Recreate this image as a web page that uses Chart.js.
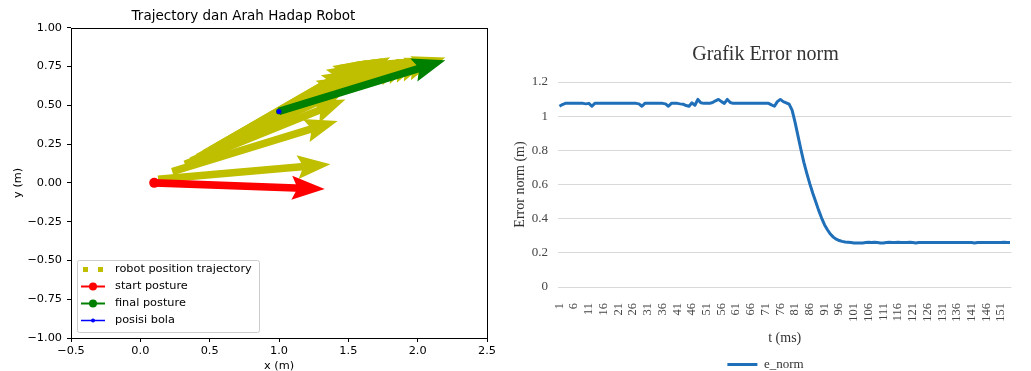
<!DOCTYPE html>
<html>
<head>
<meta charset="utf-8">
<script src="https://cdn.jsdelivr.net/npm/chart.js@4.4.1/dist/chart.umd.min.js"></script>
<style>
html, body { margin: 0; padding: 0; background: #fff; overflow: hidden; }
#wrap { position: relative; width: 1031px; height: 371px; overflow: hidden; }
#c1 { position: absolute; left: 0; top: 0; }
#c2 { position: absolute; left: 503px; top: 0; }
</style>
</head>
<body>
<div id="wrap">
  <canvas id="c1" width="558" height="376"></canvas>
  <canvas id="c2" width="530" height="385"></canvas>
</div>
<script>
// ---- left chart: trajectory (tail x, tail y, arrow dx, arrow dy) ----
var trajX = [0.128, 0.230, 0.322, 0.368, 0.414, 0.461, 0.507, 0.553, 0.599,
             0.645, 0.691, 0.737, 0.784, 0.830, 0.876, 0.922, 0.968, 1.014];
var trajY = [0.023, 0.073, 0.119, 0.142, 0.165, 0.188, 0.211, 0.234, 0.256,
             0.279, 0.302, 0.325, 0.348, 0.371, 0.394, 0.417, 0.440, 0.463];
var trajU = [1.243, 1.193, 1.157, 1.131, 1.101, 1.091, 1.080, 1.080, 1.091,
             1.101, 1.111, 1.131, 1.148, 1.157, 1.165, 1.172, 1.180, 1.186];
var trajV = [0.097, 0.326, 0.418, 0.472, 0.524, 0.541, 0.558, 0.558, 0.541,
             0.524, 0.507, 0.472, 0.436, 0.418, 0.400, 0.382, 0.363, 0.345];
var startX = [0.10], startY = [0.00], startU = [1.23], startV = [-0.04];
var finalX = [1.00], finalY = [0.46], finalU = [1.20], finalV = [0.33];
var bolaX = [1.00], bolaY = [0.46];
var legendNames = ["robot position trajectory", "start posture", "final posture", "posisi bola"];

// ---- right chart: error norm per sample ----
var errNorm = [
  1.058, 1.068, 1.075, 1.075, 1.075, 1.075, 1.075, 1.075, 1.075, 1.072,
  1.075, 1.058, 1.075, 1.075, 1.075, 1.075, 1.075, 1.075, 1.075, 1.075,
  1.075, 1.075, 1.075, 1.075, 1.075, 1.075, 1.075, 1.072, 1.058, 1.075,
  1.075, 1.075, 1.075, 1.075, 1.075, 1.075, 1.072, 1.058, 1.075, 1.075,
  1.075, 1.072, 1.070, 1.062, 1.058, 1.078, 1.064, 1.098, 1.078, 1.075,
  1.075, 1.075, 1.080, 1.090, 1.098, 1.085, 1.075, 1.098, 1.080, 1.075,
  1.075, 1.075, 1.075, 1.075, 1.075, 1.075, 1.075, 1.075, 1.075, 1.075,
  1.075, 1.075, 1.066, 1.058, 1.085, 1.098, 1.085, 1.078, 1.070, 1.035,
  0.965, 0.885, 0.805, 0.730, 0.665, 0.605, 0.550, 0.500, 0.450, 0.405,
  0.365, 0.335, 0.310, 0.292, 0.280, 0.272, 0.267, 0.264, 0.262, 0.260,
  0.258, 0.258, 0.258, 0.258, 0.260, 0.262, 0.260, 0.262, 0.260, 0.258,
  0.258, 0.260, 0.262, 0.260, 0.260, 0.262, 0.260, 0.260, 0.260, 0.262,
  0.260, 0.258, 0.260, 0.260, 0.260, 0.260, 0.260, 0.260, 0.260, 0.260,
  0.260, 0.260, 0.260, 0.260, 0.260, 0.260, 0.260, 0.260, 0.260, 0.260,
  0.260, 0.258, 0.260, 0.260, 0.260, 0.260, 0.260, 0.260, 0.260, 0.260,
  0.260, 0.262, 0.260, 0.260
];
var tLabels = errNorm.map(function (v, i) { return String(i + 1); });

function arrow(ctx, sx, sy, x0, y0, u, v, color) {
  var px0 = sx.getPixelForValue(x0), py0 = sy.getPixelForValue(y0);
  var px1 = sx.getPixelForValue(x0 + u), py1 = sy.getPixelForValue(y0 + v);
  var dx = px1 - px0, dy = py1 - py0, len = Math.hypot(dx, dy);
  var ux = dx / len, uy = dy / len, nx = -uy, ny = ux;
  var sw = 3.8, hw = 12, hl = 33, ha = 29;
  var pts = [
    [px0 + nx * sw, py0 + ny * sw],
    [px1 - ux * ha + nx * sw, py1 - uy * ha + ny * sw],
    [px1 - ux * hl + nx * hw, py1 - uy * hl + ny * hw],
    [px1, py1],
    [px1 - ux * hl - nx * hw, py1 - uy * hl - ny * hw],
    [px1 - ux * ha - nx * sw, py1 - uy * ha - ny * sw],
    [px0 - nx * sw, py0 - ny * sw]
  ];
  ctx.beginPath();
  pts.forEach(function (p, i) { if (i) ctx.lineTo(p[0], p[1]); else ctx.moveTo(p[0], p[1]); });
  ctx.closePath();
  ctx.fillStyle = color;
  ctx.fill();
}

var quiver = {
  id: "quiver",
  beforeDatasetsDraw: function (chart) {
    var ctx = chart.ctx, a = chart.chartArea, sx = chart.scales.x, sy = chart.scales.y;
    ctx.save();
    ctx.beginPath();
    ctx.rect(a.left, a.top, a.right - a.left, a.bottom - a.top);
    ctx.clip();
    for (var i = 0; i < trajX.length; i++) arrow(ctx, sx, sy, trajX[i], trajY[i], trajU[i], trajV[i], "#bfbf00");
    arrow(ctx, sx, sy, startX[0], startY[0], startU[0], startV[0], "#ff0000");
    arrow(ctx, sx, sy, finalX[0], finalY[0], finalU[0], finalV[0], "#008000");
    ctx.restore();
  },
  afterDatasetsDraw: function (chart) {
    var ctx = chart.ctx, a = chart.chartArea;
    ctx.save();
    ctx.strokeStyle = "#000";
    ctx.lineWidth = 1;
    ctx.strokeRect(Math.round(a.left) + 0.5, Math.round(a.top) + 0.5, Math.round(a.right - a.left), Math.round(a.bottom - a.top));
    // legend, lower left
    var bx = a.left + 6, bw = 182, bh = 72, by = a.bottom - 6 - bh;
    ctx.fillStyle = "rgba(255,255,255,0.8)";
    ctx.strokeStyle = "#cccccc";
    ctx.beginPath();
    ctx.roundRect(bx + 0.5, by + 0.5, bw, bh, 2);
    ctx.fill();
    ctx.stroke();
    var colors = ["#bfbf00", "#ff0000", "#008000", "#0000ff"];
    ctx.font = "11.3px 'DejaVu Sans'";
    ctx.textBaseline = "middle";
    ctx.textAlign = "left";
    for (var i = 0; i < legendNames.length; i++) {
      var ry = by + 9.5 + i * 17;
      var hx0 = bx + 4, hx1 = bx + 28;
      ctx.fillStyle = colors[i];
      ctx.strokeStyle = colors[i];
      if (i === 0) {
        ctx.fillRect(hx0 + 2, ry - 2.5, 5, 5);
        ctx.fillRect(hx1 - 7, ry - 2.5, 5, 5);
      } else {
        ctx.lineWidth = i === 3 ? 1.5 : 2;
        ctx.beginPath();
        ctx.moveTo(hx0, ry);
        ctx.lineTo(hx1, ry);
        ctx.stroke();
        ctx.beginPath();
        ctx.arc((hx0 + hx1) / 2, ry, i === 3 ? 2 : 4, 0, Math.PI * 2);
        ctx.fill();
      }
      ctx.fillStyle = "#000";
      ctx.fillText(legendNames[i], bx + 38, ry);
    }
    ctx.restore();
  }
};

function fmt(d) {
  return function (v) { return (v < -1e-9 ? "\u2212" : "") + Math.abs(v).toFixed(d); };
}

var dvFont = { family: "'DejaVu Sans'", size: 11.3 };

new Chart(document.getElementById("c1"), {
  type: "scatter",
  data: {
    datasets: [
      { label: "start posture", order: 3, data: startX.map(function (x, i) { return { x: x, y: startY[i] }; }),
        pointRadius: 5, backgroundColor: "#ff0000", borderColor: "#ff0000", borderWidth: 0 },
      { label: "final posture", order: 2, data: finalX.map(function (x, i) { return { x: x, y: finalY[i] }; }),
        pointRadius: 3, backgroundColor: "#008000", borderColor: "#008000", borderWidth: 0 },
      { label: "posisi bola", order: 1, data: bolaX.map(function (x, i) { return { x: x, y: bolaY[i] }; }),
        pointRadius: 2.5, backgroundColor: "#0000ff", borderColor: "#0000ff", borderWidth: 0 }
    ]
  },
  options: {
    responsive: false,
    animation: false,
    layout: { padding: { left: 0, right: 71, top: 0, bottom: 0 } },
    plugins: {
      legend: { display: false },
      tooltip: { enabled: false },
      title: { display: true, text: "Trajectory dan Arah Hadap Robot", color: "#000",
        font: { family: "'DejaVu Sans'", size: 13.5, weight: "normal" }, padding: { top: 8, bottom: 3.5 } }
    },
    scales: {
      x: {
        type: "linear", min: -0.5, max: 2.5,
        afterFit: function (s) { s.height = 38; },
        ticks: { stepSize: 0.5, callback: fmt(1), color: "#000", font: dvFont, padding: 2, maxRotation: 0 },
        grid: { drawOnChartArea: false, drawTicks: true, tickLength: 4, color: "#000" },
        border: { display: false },
        title: { display: true, text: "x (m)", color: "#000", font: dvFont, padding: { top: 0, bottom: 3 } }
      },
      y: {
        type: "linear", min: -1, max: 1,
        afterFit: function (s) { s.width = 71; },
        ticks: { stepSize: 0.25, callback: fmt(2), color: "#000", font: dvFont, padding: 5 },
        grid: { drawOnChartArea: false, drawTicks: true, tickLength: 4, color: "#000" },
        border: { display: false },
        title: { display: true, text: "y (m)", color: "#000", font: dvFont, padding: { top: 11, bottom: 0 } }
      }
    }
  },
  plugins: [quiver]
});

var serif = "'Liberation Serif'";
var lineBlue = "#1f6fb9";

new Chart(document.getElementById("c2"), {
  type: "line",
  data: {
    labels: tLabels,
    datasets: [{
      label: "e_norm", data: errNorm, borderColor: lineBlue, backgroundColor: lineBlue,
      borderWidth: 3, pointRadius: 0, tension: 0, borderJoinStyle: "round"
    }]
  },
  options: {
    responsive: false,
    animation: false,
    layout: { padding: { left: 0, right: 5, top: 0, bottom: 4 } },
    plugins: {
      tooltip: { enabled: false },
      title: { display: true, text: "Grafik Error norm", color: "#333",
        font: { family: serif, size: 20, weight: "normal" }, padding: { top: 43, bottom: 15 } },
      legend: {
        position: "bottom",
        labels: {
          boxWidth: 30, boxHeight: 3, padding: 6, color: "#333",
          font: { family: serif, size: 13 },
          generateLabels: function (chart) {
            return [{ text: "e_norm", fillStyle: lineBlue, strokeStyle: lineBlue, lineWidth: 0,
              hidden: false, datasetIndex: 0, fontColor: "#333" }];
          }
        }
      }
    },
    scales: {
      x: {
        offset: true,
        afterFit: function (s) { s.height = 65; },
        ticks: {
          autoSkip: false, minRotation: 90, maxRotation: 90, padding: 8, color: "#444",
          font: { family: serif, size: 12.5 },
          callback: function (v, i) { return i % 5 === 0 ? tLabels[i] : ""; }
        },
        grid: { display: false },
        border: { display: false },
        title: { display: true, text: "t (ms)", color: "#333", font: { family: serif, size: 14 },
          padding: { top: 0, bottom: 5.6 } }
      },
      y: {
        min: 0, max: 1.2,
        afterFit: function (s) { s.width = 55; },
        ticks: { stepSize: 0.2, padding: 10, color: "#444", font: { family: serif, size: 13 },
          callback: function (v) { return String(+v.toFixed(1)); } },
        grid: { color: "#d9d9d9", drawTicks: false, lineWidth: 1 },
        border: { display: false },
        title: { display: true, text: "Error norm (m)", color: "#333", font: { family: serif, size: 14 },
          padding: { top: 8.6, bottom: 0 } }
      }
    }
  }
});
</script>
</body>
</html>
